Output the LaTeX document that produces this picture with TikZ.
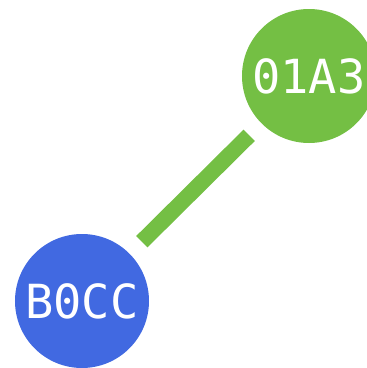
\documentclass[tikz,border=0pt]{standalone}
\usepackage{fontspec}
\setmonofont{DejaVu Sans Mono}
\usepackage{xcolor}
\usepackage{tikz}
\usetikzlibrary{positioning}

\definecolor{leafgreen}{RGB}{116,191,68}
\definecolor{royalblue}{RGB}{65,105,225}

\begin{document}
\begin{tikzpicture}[
    x=1pt, y=1pt,
    vertex/.style={circle, inner sep=0pt, minimum size=134pt, text=white,
                   font=\ttfamily\fontsize{47}{47}\selectfont},
    link/.style={line width=16pt, draw=leafgreen, shorten <=17pt, shorten >=17pt}
]
    \useasboundingbox (0,0) rectangle (367,368);

    % Nodes
    \node[vertex, fill=leafgreen] (a3) at (309,292) {01A3};
    \node[vertex, fill=royalblue] (cc) at (82,67) {B0CC};

    % Edge
    \draw[link] (a3) -- (cc);
\end{tikzpicture}
\end{document}
